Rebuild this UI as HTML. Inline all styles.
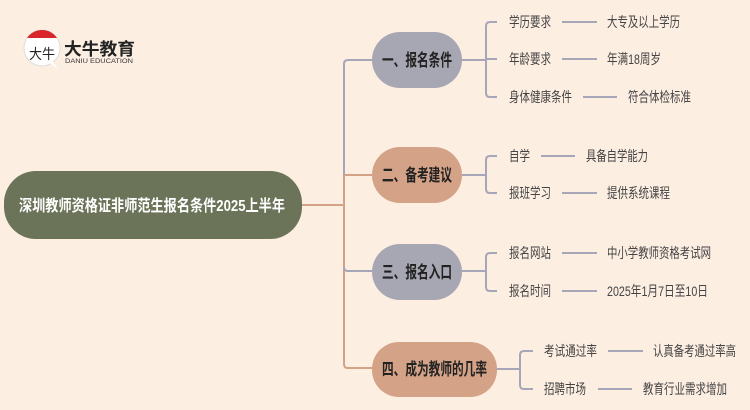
<!DOCTYPE html>
<html><head><meta charset="utf-8"><style>
html,body{margin:0;padding:0;background:#fdeee2;}
svg{display:block}
text{font-family:"Liberation Sans","Noto Sans CJK SC",sans-serif;}
.l{font-size:14px;fill:#444;}
.b{font-size:17px;font-weight:bold;fill:#222;}
</style></head><body>
<svg width="750" height="410" viewBox="0 0 750 410" xmlns="http://www.w3.org/2000/svg">
<rect width="750" height="410" fill="#fdeee2"/>
<!-- logo -->
<circle cx="42" cy="48" r="18" fill="#fff" stroke="#ddd"/>
<path d="M27 38 A18 18 0 0 1 57 38 Z" fill="#d8262a"/>
<path d="M50 63 L58 69 L52 60 Z" fill="#fff"/>
<text x="29" y="59" font-size="14" fill="#222" font-family="Liberation Serif,Noto Serif CJK SC,serif" textLength="26" lengthAdjust="spacingAndGlyphs">大牛</text>
<text x="64" y="55" font-size="17" font-weight="bold" fill="#222" textLength="71" lengthAdjust="spacingAndGlyphs">大牛教育</text>
<text x="65" y="63" font-size="6" fill="#333" textLength="68" lengthAdjust="spacingAndGlyphs">DANIU EDUCATION</text>
<!-- connectors -->
<g fill="none" stroke-width="2">
<path d="M302 205 H344" stroke="#d4a286"/>
<path d="M372 60 H348 Q344 60 344 64 V175" stroke="#a7a6b8"/>
<path d="M344 175 V364 Q344 368 348 368 H372" stroke="#d4a286"/>
<path d="M344 175 H372" stroke="#d4a286"/>
<path d="M344 267 Q344 271 348 271 H372" stroke="#a7a6b8"/>
<g stroke="#a7a6b8">
<path d="M462 60 H486 M497 22 H490 Q486 22 486 26 V93 Q486 97 490 97 H497 M486 59 H497"/>
<path d="M562 22 H597 M562 59 H597 M583 97 H617"/>
<path d="M462 175 H486 M497 156 H490 Q486 156 486 160 V189 Q486 193 490 193 H497"/>
<path d="M541 156 H575 M562 193 H597"/>
<path d="M462 271 H486 M497 253 H490 Q486 253 486 257 V287 Q486 291 490 291 H497"/>
<path d="M562 253 H597 M562 291 H597"/>
<path d="M497 369 H520 M533 351 H524 Q520 351 520 355 V385 Q520 389 524 389 H533"/>
<path d="M608 351 H643 M598 389 H632"/>
</g>
</g>
<!-- root -->
<rect x="4" y="171" width="298" height="68" rx="32" fill="#6b7358"/>
<text x="19" y="211" font-size="16" font-weight="bold" fill="#fff" textLength="266" lengthAdjust="spacingAndGlyphs">深圳教师资格证非师范生报名条件2025上半年</text>
<!-- branches -->
<rect x="372" y="32" width="90" height="56" rx="28" fill="#a7a6b3"/>
<text x="382" y="66" class="b" textLength="70" lengthAdjust="spacingAndGlyphs">一、报名条件</text>
<rect x="372" y="147" width="90" height="56" rx="28" fill="#d4a286"/>
<text x="382" y="181" class="b" textLength="70" lengthAdjust="spacingAndGlyphs">二、备考建议</text>
<rect x="372" y="244" width="90" height="56" rx="28" fill="#a7a6b3"/>
<text x="382" y="278" class="b" textLength="70" lengthAdjust="spacingAndGlyphs">三、报名入口</text>
<rect x="372" y="342" width="125" height="55" rx="27" fill="#d4a286"/>
<text x="382" y="375" class="b" textLength="105" lengthAdjust="spacingAndGlyphs">四、成为教师的几率</text>
<!-- leaves -->
<g class="l" lengthAdjust="spacingAndGlyphs">
<text x="509" y="27" textLength="42" lengthAdjust="spacingAndGlyphs">学历要求</text><text x="607" y="27" textLength="73" lengthAdjust="spacingAndGlyphs">大专及以上学历</text>
<text x="509" y="64" textLength="42" lengthAdjust="spacingAndGlyphs">年龄要求</text><text x="607" y="64" textLength="54" lengthAdjust="spacingAndGlyphs">年满18周岁</text>
<text x="509" y="102" textLength="63" lengthAdjust="spacingAndGlyphs">身体健康条件</text><text x="628" y="102" textLength="63" lengthAdjust="spacingAndGlyphs">符合体检标准</text>
<text x="509" y="161" textLength="21" lengthAdjust="spacingAndGlyphs">自学</text><text x="586" y="161" textLength="62" lengthAdjust="spacingAndGlyphs">具备自学能力</text>
<text x="509" y="198" textLength="42" lengthAdjust="spacingAndGlyphs">报班学习</text><text x="607" y="198" textLength="63" lengthAdjust="spacingAndGlyphs">提供系统课程</text>
<text x="509" y="258" textLength="42" lengthAdjust="spacingAndGlyphs">报名网站</text><text x="607" y="258" textLength="104" lengthAdjust="spacingAndGlyphs">中小学教师资格考试网</text>
<text x="509" y="296" textLength="42" lengthAdjust="spacingAndGlyphs">报名时间</text><text x="607" y="296" textLength="101" lengthAdjust="spacingAndGlyphs">2025年1月7日至10日</text>
<text x="544" y="356" textLength="53" lengthAdjust="spacingAndGlyphs">考试通过率</text><text x="653" y="356" textLength="83" lengthAdjust="spacingAndGlyphs">认真备考通过率高</text>
<text x="544" y="394" textLength="42" lengthAdjust="spacingAndGlyphs">招聘市场</text><text x="643" y="394" textLength="84" lengthAdjust="spacingAndGlyphs">教育行业需求增加</text>
</g>
</svg>
</body></html>
